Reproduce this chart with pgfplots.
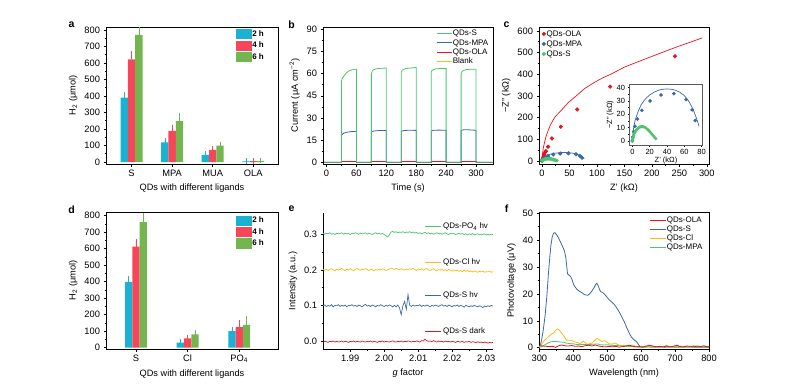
\documentclass[border=0pt]{standalone}
\usepackage{pgfplots}
\pgfplotsset{compat=1.18}
\usepackage{pgfplotstable}
\usepackage{fontspec}
\setmainfont{Liberation Sans}
\definecolor{cyanA}{RGB}{26,178,211}
\definecolor{redA}{RGB}{247,69,90}
\definecolor{greenA}{RGB}{115,182,79}
\definecolor{lgreen}{RGB}{76,196,112}
\definecolor{lblue}{RGB}{58,105,165}
\definecolor{lred}{RGB}{232,20,28}
\definecolor{lorange}{RGB}{255,184,20}
\pgfplotsset{
  myaxis/.style={
    scale only axis, anchor=south west,
    axis line style={line width=0.7pt},
    tick align=outside,
    major tick length=2.5pt, minor tick length=1.5pt,
    tick style={black, line width=0.6pt},
    tick label style={font=\fontsize{9.3}{10}\selectfont},
    label style={font=\fontsize{9.2}{10}\selectfont},
    /pgf/number format/assume math mode=true,
    tick pos=left,
  },
  barlegend/.style={legend style={draw=none, fill=none, inner sep=0pt,
      font=\bfseries\fontsize{8}{9}\selectfont,
      nodes={inner sep=0.8pt, text height=6.5pt, text depth=1.5pt}, row sep=1.8pt},
      legend cell align=left},
  linelegend/.style={legend style={draw=none, fill=none, inner sep=0pt,
      font=\fontsize{8}{9}\selectfont,
      nodes={inner sep=0.7pt, text height=6.5pt, text depth=1.5pt}, row sep=0pt},
      legend cell align=left},
  errA/.style={error bars/.cd, y dir=plus, y explicit,
      error bar style={draw=#1, line width=0.6pt},
      error mark options={draw=#1, mark size=2.8pt, line width=0.6pt}},
}
\pgfplotstableread{
x h2 e2 h4 e4 h6 e6
0 390 16 622 31 770 34
1 119 10 188 22 248 33
2 44 8 73 5 99 4
3 4 2 5 2 7 2
}\tabA
\pgfplotstableread{
x h2 e2 h4 e4 h6 e6
0 398 18 612 30 760 40
1 30 3 57 4 81 7
2 101 10 124 24 138 36
}\tabD
\pgfplotstableread{
x G Y B R
1.9820 0.301 0.201 0.100 -0.001
1.9825 0.299 0.199 0.102 0.001
1.9830 0.302 0.202 0.098 0.000
1.9835 0.300 0.198 0.101 -0.002
1.9840 0.303 0.201 0.099 0.001
1.9845 0.299 0.203 0.103 0.000
1.9850 0.301 0.200 0.097 0.002
1.9855 0.298 0.197 0.101 -0.001
1.9860 0.302 0.202 0.100 0.001
1.9865 0.300 0.199 0.103 -0.001
1.9870 0.301 0.201 0.098 0.000
1.9875 0.303 0.204 0.101 0.002
1.9880 0.299 0.200 0.099 -0.001
1.9885 0.302 0.198 0.102 0.001
1.9890 0.300 0.202 0.097 0.000
1.9895 0.301 0.199 0.101 -0.002
1.9900 0.298 0.203 0.100 0.001
1.9905 0.302 0.200 0.103 0.000
1.9910 0.300 0.197 0.099 0.002
1.9915 0.303 0.201 0.101 -0.001
1.9920 0.301 0.204 0.098 0.001
1.9925 0.299 0.201 0.102 0.000
1.9930 0.302 0.199 0.100 -0.001
1.9935 0.300 0.202 0.097 0.002
1.9940 0.301 0.200 0.101 0.000
1.9945 0.303 0.203 0.104 -0.001
1.9950 0.299 0.201 0.099 0.001
1.9955 0.302 0.198 0.101 0.000
1.9960 0.300 0.202 0.098 0.002
1.9965 0.298 0.200 0.102 -0.001
1.9970 0.301 0.197 0.100 0.001
1.9975 0.303 0.201 0.097 0.000
1.9980 0.300 0.199 0.101 -0.002
1.9985 0.302 0.202 0.099 0.001
1.9990 0.299 0.200 0.103 0.000
1.9995 0.301 0.203 0.100 0.002
2.0000 0.298 0.201 0.098 -0.001
2.0005 0.295 0.198 0.101 0.001
2.0010 0.291 0.200 0.099 0.000
2.0015 0.297 0.202 0.102 -0.001
2.0020 0.305 0.205 0.100 0.001
2.0025 0.307 0.203 0.097 0.002
2.0030 0.304 0.201 0.101 0.000
2.0035 0.306 0.204 0.097 -0.001
2.0040 0.303 0.202 0.102 0.001
2.0045 0.305 0.200 0.094 0.000
2.0050 0.304 0.203 0.075 0.002
2.0055 0.306 0.201 0.100 -0.001
2.0060 0.303 0.199 0.112 0.001
2.0065 0.305 0.202 0.090 0.000
2.0070 0.304 0.200 0.131 0.002
2.0075 0.306 0.203 0.101 0.001
2.0080 0.303 0.201 0.098 -0.001
2.0085 0.305 0.204 0.102 0.001
2.0090 0.302 0.201 0.099 0.000
2.0095 0.304 0.198 0.101 0.002
2.0100 0.301 0.202 0.100 0.001
2.0105 0.303 0.200 0.103 -0.001
2.0110 0.300 0.203 0.098 0.003
2.0115 0.302 0.199 0.101 0.002
2.0120 0.304 0.201 0.099 0.007
2.0125 0.301 0.204 0.102 0.003
2.0130 0.303 0.200 0.100 0.001
2.0135 0.300 0.198 0.097 0.002
2.0140 0.302 0.201 0.101 0.000
2.0145 0.299 0.203 0.099 0.003
2.0150 0.301 0.199 0.102 0.001
2.0155 0.303 0.197 0.100 -0.001
2.0160 0.300 0.201 0.098 0.002
2.0165 0.302 0.199 0.101 0.000
2.0170 0.299 0.202 0.103 0.001
2.0175 0.301 0.198 0.099 -0.001
2.0180 0.303 0.200 0.101 0.002
2.0185 0.300 0.197 0.098 0.000
2.0190 0.298 0.201 0.102 0.001
2.0195 0.302 0.199 0.100 -0.001
2.0200 0.300 0.196 0.097 0.001
2.0205 0.301 0.200 0.101 0.000
2.0210 0.298 0.197 0.099 -0.002
2.0215 0.300 0.199 0.102 0.001
2.0220 0.302 0.196 0.098 0.000
2.0225 0.299 0.198 0.101 -0.001
2.0230 0.301 0.195 0.099 0.001
2.0235 0.298 0.199 0.096 -0.002
2.0240 0.300 0.196 0.101 0.000
2.0245 0.297 0.198 0.099 -0.001
2.0250 0.300 0.195 0.097 0.001
2.0255 0.298 0.197 0.100 -0.002
2.0260 0.301 0.194 0.098 0.000
2.0265 0.297 0.197 0.101 -0.001
2.0270 0.299 0.195 0.099 -0.003
2.0275 0.300 0.193 0.097 0.000
2.0280 0.297 0.196 0.100 -0.002
2.0285 0.299 0.194 0.098 -0.001
2.0290 0.298 0.196 0.095 -0.003
2.0295 0.300 0.193 0.099 -0.001
2.0300 0.297 0.195 0.097 -0.002
2.0305 0.299 0.194 0.100 -0.004
2.0310 0.297 0.196 0.098 -0.002
2.0315 0.299 0.193 0.101 -0.003
2.0320 0.298 0.195 0.099 -0.002
}\tabE
\begin{document}
\begin{tikzpicture}
\useasboundingbox (0,0) rectangle (786pt,384pt);
\node[font=\bfseries\fontsize{10.5}{12}\selectfont] at (71.5pt,359pt) {a};
\node[font=\bfseries\fontsize{10.5}{12}\selectfont] at (291.5pt,359pt) {b};
\node[font=\bfseries\fontsize{10.5}{12}\selectfont] at (506.5pt,359pt) {c};
\node[font=\bfseries\fontsize{10.5}{12}\selectfont] at (71.5pt,174pt) {d};
\node[font=\bfseries\fontsize{10.5}{12}\selectfont] at (291.5pt,175pt) {e};
\node[font=\bfseries\fontsize{10.5}{12}\selectfont] at (506.5pt,175pt) {f};

% ---------------- a
\begin{axis}[myaxis, barlegend, at={(106pt,220pt)}, width=172pt, height=137pt,
  xmin=-0.63, xmax=3.61, ymin=-12, ymax=818,
  xtick={0,1,2,3}, xticklabels={S,MPA,MUA,OLA},
  ytick={0,100,...,800}, minor y tick num=1,
  ybar=0pt, bar width=7.3pt,
  xlabel={QDs with different ligands}, ylabel={H\textsubscript{2} (μmol)},
  legend style={at={(0.755,0.985)}, anchor=north west}]
\addplot[fill=cyanA, draw=none, forget plot, bar shift=-7.3pt, errA=cyanA]
  table[x=x, y=h2, y error=e2] {\tabA};
\addplot[fill=redA, draw=none, forget plot, bar shift=0pt, errA=redA]
  table[x=x, y=h4, y error=e4] {\tabA};
\addplot[fill=greenA, draw=none, forget plot, bar shift=7.3pt, errA=greenA]
  table[x=x, y=h6, y error=e6] {\tabA};
\addlegendimage{legend image code/.code={\fill[cyanA] (0pt,-4.6pt) rectangle (15pt,4.6pt);}}
\addlegendentry{2 h}
\addlegendimage{legend image code/.code={\fill[redA] (0pt,-4.6pt) rectangle (15pt,4.6pt);}}
\addlegendentry{4 h}
\addlegendimage{legend image code/.code={\fill[greenA] (0pt,-4.6pt) rectangle (15pt,4.6pt);}}
\addlegendentry{6 h}
\end{axis}

% ---------------- b
\begin{axis}[myaxis, linelegend, at={(323pt,220pt)}, width=170pt, height=137pt,
  xmin=-7, xmax=334, ymin=-1.15, ymax=91.6,
  xtick={0,60,...,300}, ytick={0,15,...,90}, minor x tick num=1, minor y tick num=1,
  xlabel={Time (s)}, ylabel={Current (μA cm\textsuperscript{−2})},
  legend style={at={(0.665,0.99)}, anchor=north west}]
\addplot[lorange, line width=0.8pt, forget plot] coordinates {(-5,0)(30,0)(30,0.4)(60,0.4)(60,0)(90,0)(90,0.4)(120,0.4)(120,0)(150,0)(150,0.4)(180,0.4)(180,0)(210,0)(210,0.4)(240,0.4)(240,0)(270,0)(270,0.4)(300,0.4)(300,0)(334,0)};
\addplot[lred, line width=0.8pt, forget plot] coordinates {(-5,0)(30,0)(30,0.8)(60,0.8)(60,0)(90,0)(90,0.8)(120,0.8)(120,0)(150,0)(150,0.8)(180,0.8)(180,0)(210,0)(210,0.8)(240,0.8)(240,0)(270,0)(270,0.8)(300,0.8)(300,0)(334,0)};
\addplot[lblue, line width=0.8pt, forget plot] coordinates {(-5,0)(30,0)(30,18)(32,19)(35,19.8)(40,20.3)(50,20.8)(60,21)(60,0)(90,0)(90,20.5)(95,21.2)(105,21.5)(120,21.5)(120,0)(150,0)(150,21)(155,21.5)(165,21.7)(180,21.6)(180,0)(210,0)(210,21.2)(215,21.7)(225,21.8)(240,21.7)(240,0)(270,0)(270,21.5)(275,22)(285,22)(300,21.7)(300,0)(334,0)};
\addplot[lgreen, line width=0.8pt, forget plot] coordinates {(-5,0)(30,0)(30,55)(32,57)(35,58.5)(40,60.5)(45,61.8)(50,62.5)(55,62.9)(60,63)(60,0)(90,0)(90,60)(92,62)(95,62.8)(100,63.3)(110,63.7)(120,63.8)(120,0)(150,0)(150,61)(152,62.3)(155,63)(160,63.5)(170,63.9)(180,64.2)(180,0)(210,0)(210,61)(212,62.3)(215,62.8)(220,63.3)(230,63.5)(240,63.5)(240,0)(270,0)(270,60)(272,61.5)(275,62.2)(280,62.8)(290,63)(300,63)(300,0)(334,0)};
\addlegendimage{legend image code/.code={\draw[lgreen, line width=0.9pt] (0pt,0pt) -- (15pt,0pt);}}\addlegendentry{QDs-S}
\addlegendimage{legend image code/.code={\draw[lblue, line width=0.9pt] (0pt,0pt) -- (15pt,0pt);}}\addlegendentry{QDs-MPA}
\addlegendimage{legend image code/.code={\draw[lred, line width=0.9pt] (0pt,0pt) -- (15pt,0pt);}}\addlegendentry{QDs-OLA}
\addlegendimage{legend image code/.code={\draw[lorange, line width=0.9pt] (0pt,0pt) -- (15pt,0pt);}}\addlegendentry{Blank}
\end{axis}

% ---------------- c
\begin{axis}[myaxis, linelegend, at={(539pt,220pt)}, width=170pt, height=137pt,
  xmin=-5.5, xmax=304, ymin=-13.8, ymax=618,
  xtick={0,50,...,300}, ytick={0,100,...,600}, minor x tick num=1, minor y tick num=1,
  xlabel={Z' (kΩ)}, ylabel={−Z'' (kΩ)},
  legend style={at={(0.015,0.985)}, anchor=north west, row sep=0.6pt}]
\addplot[lred, line width=0.7pt, forget plot] coordinates {(0,0)(0.5,20)(1,35)(2,55)(4,80)(7,110)(11,140)(16,170)(24,205)(33,228)(48,270)(63,302)(78,335)(95,362)(110,383)(125,400)(150,433)(185,468)(215,497)(245,526)(270,548)(292,568)};
\addplot[lblue, line width=0.7pt, forget plot] coordinates {(0,0)(1,8)(3,15)(6,21)(10,27)(15,31.5)(20,34.5)(25,36.5)(30,38)(35,38.8)(40,39)(45,38.8)(50,38)(55,36.5)(60,34)(65,30)(70,24)(74,17)(77,11)};
\addplot[only marks, mark=*, mark size=1.9pt, lred, forget plot] coordinates {(0,0)(1,8)(2,15)(3,22)(4,30)(5,38)(7,45)(11,66)(18,104)(34,158)(64,238)(124,343)(242,483)};
\addplot[only marks, mark=*, mark size=1.9pt, lblue, forget plot] coordinates {(0,0)(0.5,3)(1.5,7)(3,11)(6,16.5)(11,23)(20.5,30)(33,34.5)(48,35.5)(62,31)(69,23.3)(72.6,15.3)};
\addplot[only marks, mark=*, mark size=1.6pt, lgreen, forget plot] coordinates {(0,0)(0.3,1)(0.6,2)(1,3)(1.5,4.2)(2.2,5.4)(3,6.5)(4,7.6)(5,8.5)(6.2,9.3)(7.5,10)(9,10.5)(10.5,10.8)(12,10.8)(13.5,10.5)(15,10)(16.5,9.3)(18,8.4)(19.5,7.4)(21,6.3)(22.5,5.2)(24,4)(25.5,2.8)(27,1.8)};
\addlegendimage{legend image code/.code={\fill[lred] (4pt,0pt) circle (1.9pt);}}\addlegendentry{QDs-OLA}
\addlegendimage{legend image code/.code={\fill[lblue] (4pt,0pt) circle (1.9pt);}}\addlegendentry{QDs-MPA}
\addlegendimage{legend image code/.code={\fill[lgreen] (4pt,0pt) circle (1.9pt);}}\addlegendentry{QDs-S}
\end{axis}

% inset
\begin{axis}[myaxis, at={(629.3pt,239pt)}, width=73.4pt, height=60.7pt,
  xmin=-3.5, xmax=81.2, ymin=-3, ymax=42.5,
  xtick={0,20,...,80}, ytick={0,10,...,40}, minor x tick num=1, minor y tick num=1,
  axis line style={black!65, line width=0.6pt},
  major tick length=1.8pt, minor tick length=1pt,
  tick label style={font=\fontsize{7.5}{8}\selectfont},
  label style={font=\fontsize{7.5}{8}\selectfont},
  xlabel={Z' (kΩ)}, ylabel={−Z'' (kΩ)},
  xlabel style={yshift=4pt}, ylabel style={yshift=-4pt},
  xticklabel style={yshift=1pt}, yticklabel style={xshift=1pt},
  axis background/.style={fill=white}]
\addplot[lblue, line width=0.7pt] coordinates {(0,0)(1,8)(3,15)(6,21)(10,27)(15,31.5)(20,34.5)(25,36.5)(30,38)(35,38.8)(40,39)(45,38.8)(50,38)(55,36.5)(60,34)(65,30)(70,24)(74,17)(77,11)};
\addplot[lgreen, line width=0.7pt] coordinates {(0,0)(1,4)(3,7.5)(6,10)(9,11.2)(12,11.3)(15,10.5)(18,9)(21,7)(24,4.5)(27,1.5)};
\addplot[only marks, mark=*, mark size=1.6pt, lblue] coordinates {(0,0)(0.5,3)(1.5,7)(3,11)(6,16.5)(11,23)(20.5,30)(33,34.5)(48,35.5)(62,31)(69,23.3)(72.6,15.3)};
\addplot[only marks, mark=*, mark size=1.4pt, lgreen] coordinates {(0,0)(0.3,1)(0.6,2)(1,3)(1.5,4.2)(2.2,5.4)(3,6.5)(4,7.6)(5,8.5)(6.2,9.3)(7.5,10)(9,10.5)(10.5,10.8)(12,10.8)(13.5,10.5)(15,10)(16.5,9.3)(18,8.4)(19.5,7.4)(21,6.3)(22.5,5.2)(24,4)(25.5,2.8)(27,1.8)};
\end{axis}

% ---------------- d
\begin{axis}[myaxis, barlegend, at={(106pt,35pt)}, width=172pt, height=137pt,
  xmin=-0.58, xmax=2.75, ymin=-8, ymax=822,
  xtick={0,1,2}, xticklabels={S,Cl,PO\textsubscript{4}},
  ytick={0,100,...,800}, minor y tick num=1,
  ybar=0pt, bar width=7.3pt,
  xlabel={QDs with different ligands}, ylabel={H\textsubscript{2} (μmol)},
  legend style={at={(0.755,0.975)}, anchor=north west}]
\addplot[fill=cyanA, draw=none, forget plot, bar shift=-7.3pt, errA=cyanA]
  table[x=x, y=h2, y error=e2] {\tabD};
\addplot[fill=redA, draw=none, forget plot, bar shift=0pt, errA=redA]
  table[x=x, y=h4, y error=e4] {\tabD};
\addplot[fill=greenA, draw=none, forget plot, bar shift=7.3pt, errA=greenA]
  table[x=x, y=h6, y error=e6] {\tabD};
\addlegendimage{legend image code/.code={\fill[cyanA] (0pt,-4.6pt) rectangle (15pt,4.6pt);}}
\addlegendentry{2 h}
\addlegendimage{legend image code/.code={\fill[redA] (0pt,-4.6pt) rectangle (15pt,4.6pt);}}
\addlegendentry{4 h}
\addlegendimage{legend image code/.code={\fill[greenA] (0pt,-4.6pt) rectangle (15pt,4.6pt);}}
\addlegendentry{6 h}
\end{axis}

% ---------------- e
\begin{axis}[myaxis, at={(323pt,35pt)}, width=170pt, height=136pt,
  axis x line*=bottom, axis y line*=left,
  xmin=1.982, xmax=2.032, ymin=-0.0203, ymax=0.358,
  xtick={1.99,2.00,2.01,2.02,2.03}, ytick={0,0.1,0.2,0.3},
  minor x tick num=1, minor y tick num=1,
  xticklabel style={/pgf/number format/.cd, fixed, fixed zerofill, precision=2},
  yticklabel style={/pgf/number format/.cd, fixed, fixed zerofill, precision=1},
  scaled ticks=false,
  xlabel={\textit{g} factor}, ylabel={Intensity (a.u.)}]
\addplot[lgreen, line width=0.7pt] table[x=x, y=G] {\tabE};
\addplot[lorange, line width=0.7pt] table[x=x, y=Y] {\tabE};
\addplot[lblue, line width=0.7pt] table[x=x, y=B] {\tabE};
\addplot[lred, line width=0.7pt] table[x=x, y=R] {\tabE};
\addplot[lgreen, line width=0.8pt] coordinates {(2.0119,0.32)(2.0168,0.32)};
\addplot[lorange, line width=0.8pt] coordinates {(2.0119,0.221)(2.0168,0.221)};
\addplot[lblue, line width=0.8pt] coordinates {(2.0119,0.128)(2.0168,0.128)};
\addplot[lred, line width=0.8pt] coordinates {(2.0119,0.030)(2.0168,0.030)};
\node[anchor=west, font=\fontsize{8}{9}\selectfont, inner sep=0pt] at (axis cs:2.0173,0.32) {QDs-PO\textsubscript{4} hv};
\node[anchor=west, font=\fontsize{8}{9}\selectfont, inner sep=0pt] at (axis cs:2.0173,0.221) {QDs-Cl hv};
\node[anchor=west, font=\fontsize{8}{9}\selectfont, inner sep=0pt] at (axis cs:2.0173,0.128) {QDs-S hv};
\node[anchor=west, font=\fontsize{8}{9}\selectfont, inner sep=0pt] at (axis cs:2.0173,0.030) {QDs-S dark};
\end{axis}

% ---------------- f
\begin{axis}[myaxis, linelegend, at={(539pt,35pt)}, width=170pt, height=137pt,
  xmin=299, xmax=800, ymin=-0.5, ymax=50.5,
  xtick={300,400,...,800}, ytick={0,10,...,50}, minor x tick num=1, minor y tick num=1,
  xlabel={Wavelength (nm)}, ylabel={Photovoltage (μV)},
  legend style={at={(0.648,0.975)}, anchor=north west, row sep=-0.4pt}]
\addplot[lblue, line width=0.8pt, forget plot] coordinates {(300,0.3)(302,0.4)(307,3)(312,7)(317,12)(322,19)(327,28)(331,34)(334,38)(338,41.3)(342,42.6)(346,42.8)(350,42.2)(356,41)(362,39.4)(368,37.8)(374,36)(378,33.5)(381,30)(383,27.5)(387,27)(392,26.5)(396,25.5)(401,23.5)(406,22.5)(411,21.7)(418,21)(425,20.5)(432,19.8)(438,19.6)(443,19.5)(447,19.9)(452,20.6)(457,21.5)(462,22.5)(466,23.5)(469,24)(472,23.5)(475,22.5)(478,21.5)(481,20.8)(486,20.6)(491,20)(498,19)(506,17.8)(513,17)(520,16.2)(527,15)(535,13.4)(542,11.7)(550,9.7)(557,7.6)(565,5.4)(572,3.8)(580,2.8)(586,2.3)(590,1.6)(595,0.7)(600,0.2)(610,0.3)(620,0.5)(630,0.2)(650,0.3)(670,0.2)(690,0.3)(710,0.2)(730,0.3)(760,0.2)(800,0.2)};
\addplot[lorange, line width=0.8pt, forget plot] coordinates {(300,0.3)(305,1)(312,2.3)(322,3.5)(332,4.7)(342,5.5)(348,6.5)(354,7)(358,6.6)(363,5.8)(368,5)(373,4.2)(378,3.2)(383,2.6)(390,2.6)(395,2.8)(401,2.3)(408,2)(415,1.8)(420,1.5)(425,2)(430,2.4)(436,1.8)(442,1.2)(448,1.5)(455,1.7)(460,2.3)(465,3)(470,3.4)(475,3.1)(480,2.6)(485,2.3)(490,2.6)(495,2.5)(500,1.9)(507,1.4)(515,1.3)(520,1.7)(525,1.6)(530,1.2)(537,0.9)(544,0.7)(552,0.9)(558,0.6)(564,0.4)(570,0.8)(575,1)(582,0.6)(589,0.3)(595,0.2)(602,0.3)(610,0.1)(618,0.3)(625,0.6)(632,0.2)(640,0.4)(650,0.3)(660,0.2)(668,0.5)(675,0.9)(682,0.4)(690,0.3)(700,0.5)(708,0.3)(716,0.6)(725,0.3)(735,0.4)(745,0.3)(755,0.8)(765,0.4)(775,0.5)(785,0.3)(792,0.6)(800,0.2)};
\addplot[lgreen, line width=0.8pt, forget plot] coordinates {(300,0.1)(310,0.6)(318,1.2)(325,1.7)(332,2.1)(340,2.3)(348,2.3)(356,2.2)(364,2.1)(372,2)(380,1.7)(390,1.5)(400,1.4)(410,1.2)(420,1.1)(430,1.2)(440,1.2)(450,1.2)(460,1.3)(470,1.4)(480,1.1)(490,1)(500,1.1)(510,0.9)(520,0.8)(530,0.8)(545,0.6)(560,0.5)(575,0.4)(590,0.3)(610,0.3)(640,0.2)(670,0.3)(700,0.2)(730,0.3)(760,0.2)(800,0.3)};
\addplot[lred, line width=0.8pt, forget plot] coordinates {(300,0.8)(310,0.6)(320,0.5)(330,0.4)(340,0.5)(348,0.1)(355,0.6)(365,1.0)(375,0.7)(385,0.6)(395,0.8)(405,0.5)(415,0.6)(425,0.4)(435,0.7)(445,0.9)(455,0.6)(465,1.0)(475,0.6)(485,0.4)(495,0.3)(505,0.5)(515,0.3)(525,0.5)(535,0.2)(545,0.4)(555,0.6)(565,0.9)(575,0.5)(585,0.3)(595,0.4)(605,0.2)(615,0.6)(625,0.9)(635,0.6)(645,0.3)(655,0.5)(665,0.3)(675,0.6)(685,0.3)(695,0.5)(705,0.9)(715,0.4)(725,0.3)(735,0.6)(745,0.5)(755,0.3)(765,0.6)(775,0.4)(785,0.7)(795,0.3)(800,0.4)};
\addlegendimage{legend image code/.code={\draw[lred, line width=0.9pt] (0pt,0pt) -- (16pt,0pt);}}\addlegendentry{QDs-OLA}
\addlegendimage{legend image code/.code={\draw[lblue, line width=0.9pt] (0pt,0pt) -- (16pt,0pt);}}\addlegendentry{QDs-S}
\addlegendimage{legend image code/.code={\draw[lorange, line width=0.9pt] (0pt,0pt) -- (16pt,0pt);}}\addlegendentry{QDs-Cl}
\addlegendimage{legend image code/.code={\draw[lgreen, line width=0.9pt] (0pt,0pt) -- (16pt,0pt);}}\addlegendentry{QDs-MPA}
\end{axis}
\end{tikzpicture}
\end{document}
